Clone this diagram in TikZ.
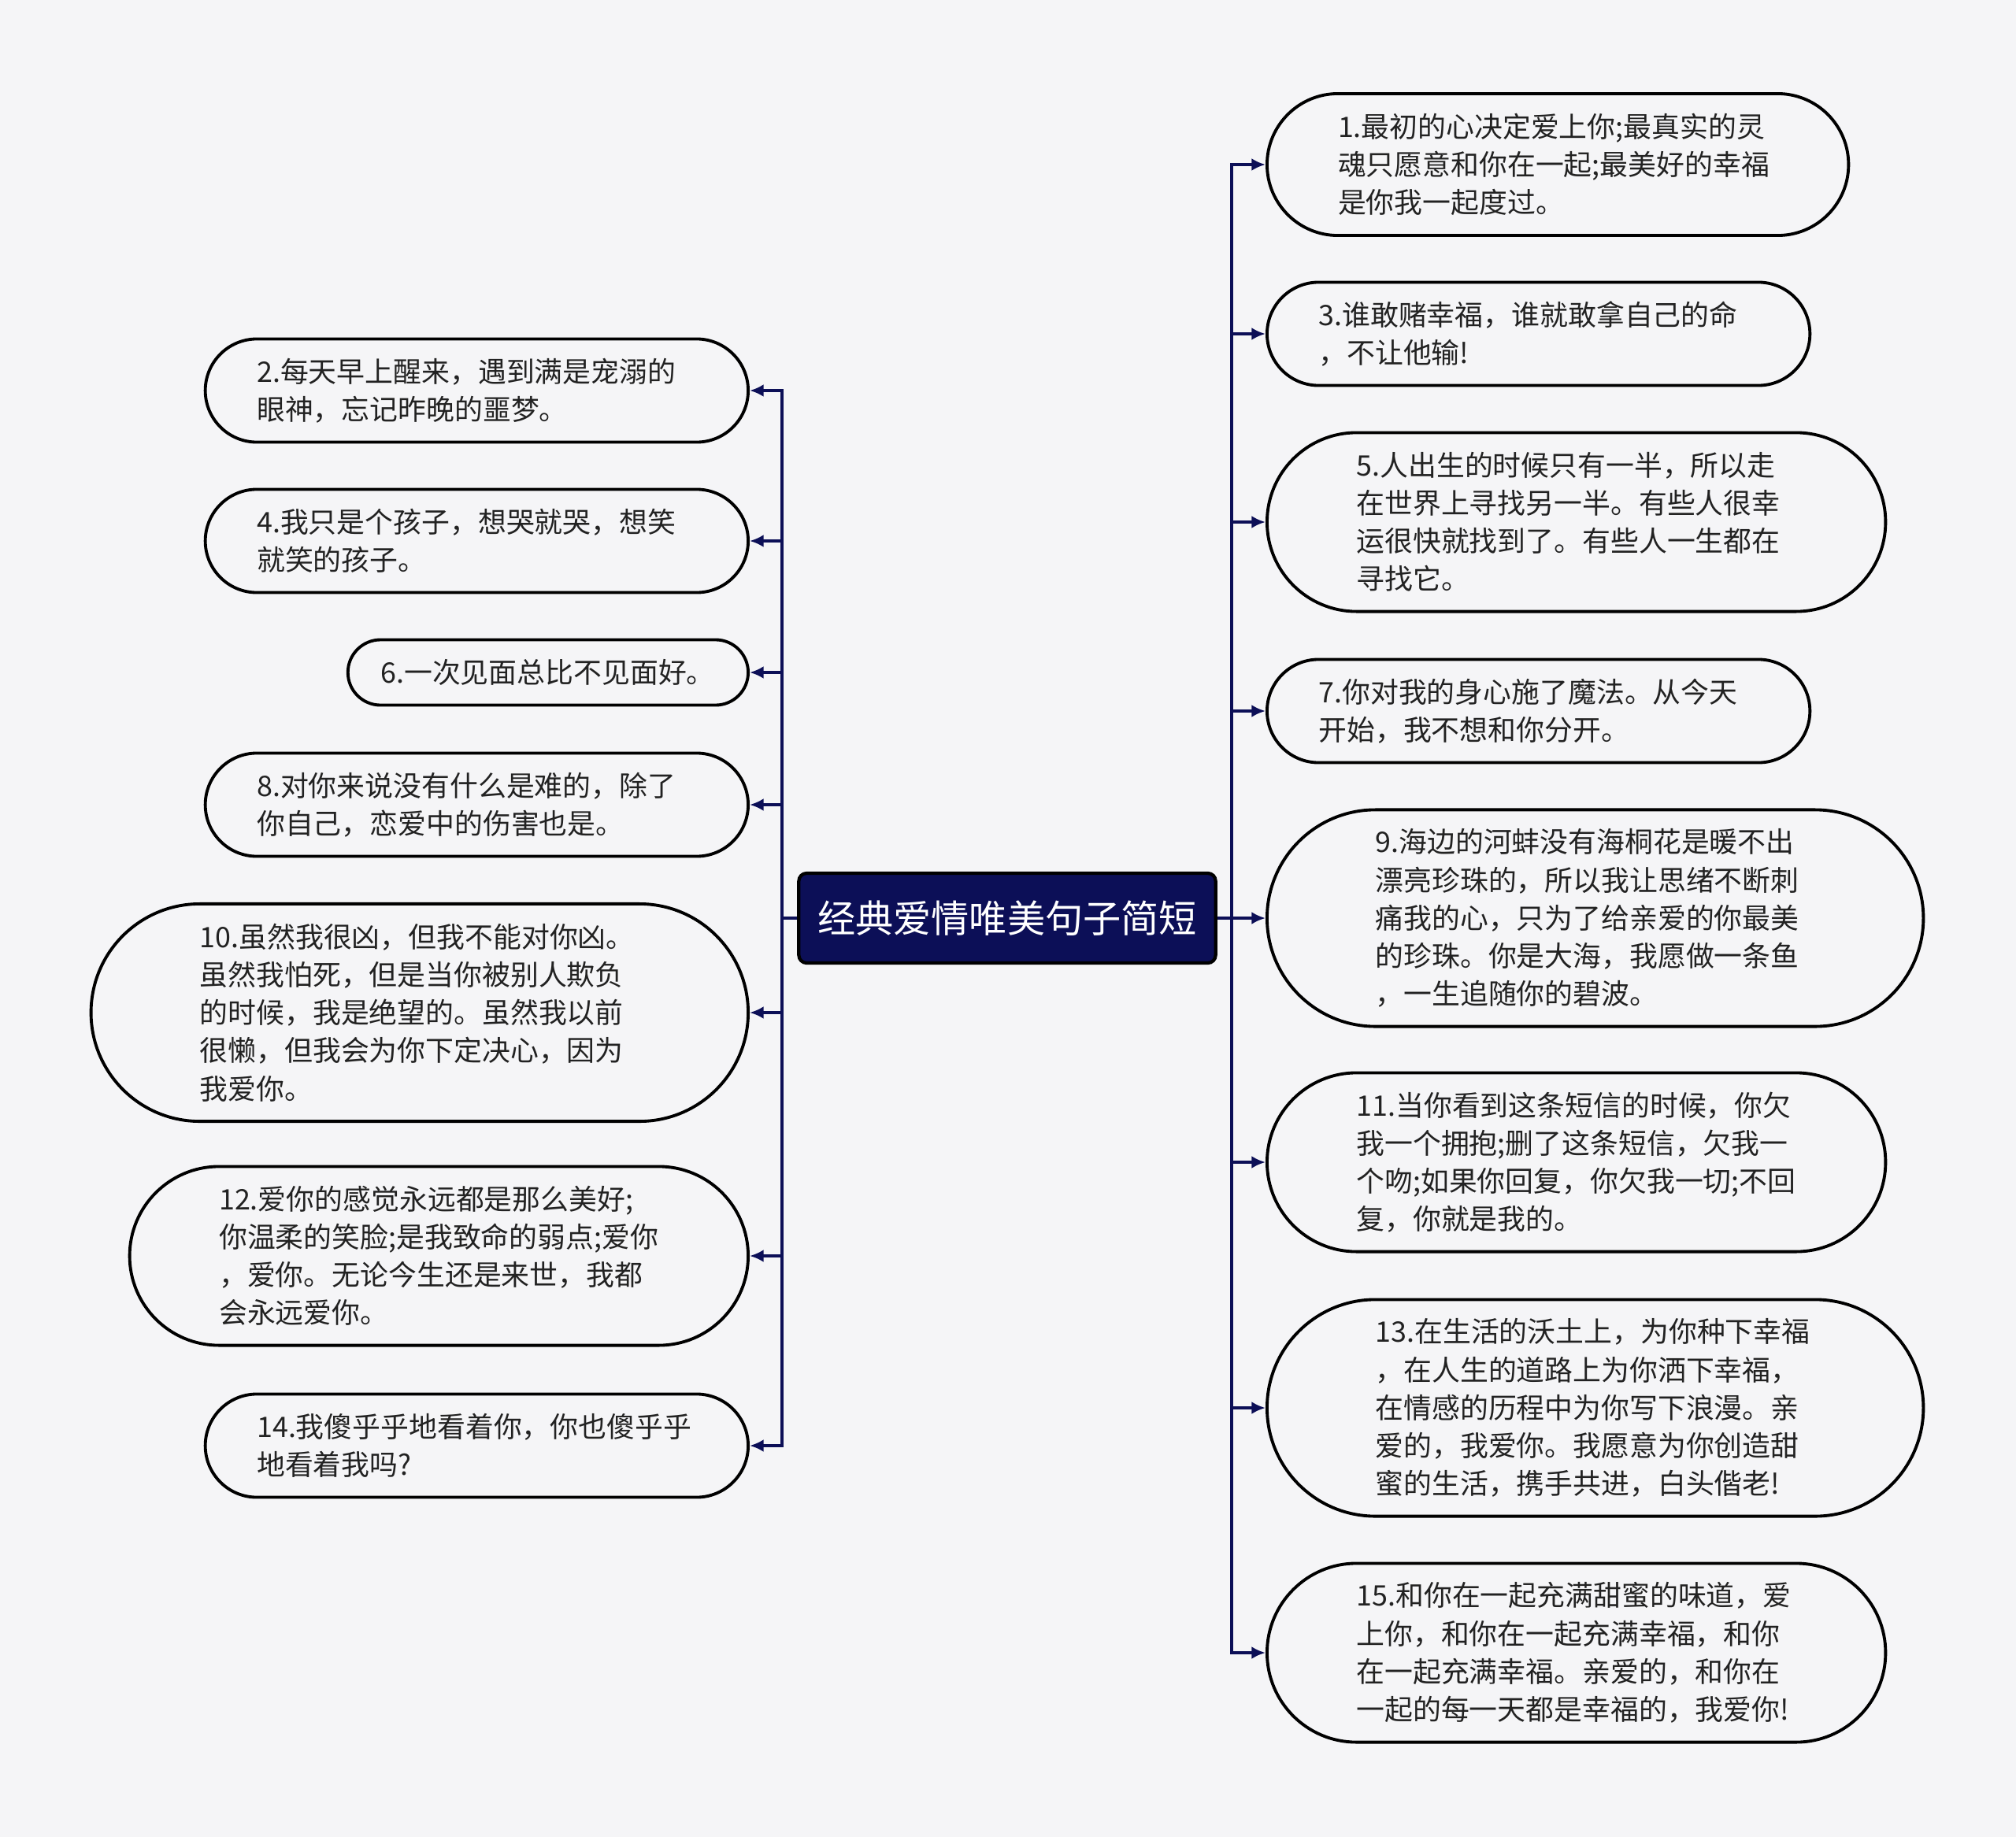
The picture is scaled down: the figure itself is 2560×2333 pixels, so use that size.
\documentclass[tikz,border=0pt]{standalone}
\usepackage{fontspec}
\setmainfont{Noto Sans CJK SC}
\usetikzlibrary{arrows.meta}

\definecolor{bgc}{HTML}{F5F5F7}
\definecolor{navy}{HTML}{0C0F57}
\definecolor{txtc}{HTML}{222222}

\begin{document}
\begin{tikzpicture}[
  x=0.01cm, y=-0.01cm,
  leaf/.style={draw=black, line width=1.1pt, fill=bgc, text=txtc,
               font=\fontsize{10.2}{13.7}\selectfont, align=left,
               text width=5.58cm, minimum height=#1, inner xsep=#1/2,
               inner ysep=0pt, rounded corners=#1/2},
  root/.style={draw=black, line width=1.2pt, fill=navy, text=white,
               font=\fontsize{13.7}{16}\selectfont, rounded corners=1mm,
               minimum width=5.29cm, minimum height=1.14cm, inner sep=0pt},
  conn/.style={draw=navy, line width=1.1pt, -{Latex[length=5pt,width=4.5pt]}},
]

% ---------------- Canvas ----------------
\useasboundingbox (0,0) rectangle (2560,2333);
\fill[bgc] (0,0) rectangle (2560,2333);

% ---------------- Root ----------------
\node[root] (root) at (1279,1166) {经典爱情唯美句子简短};
\coordinate (lt) at (993,1166);
\coordinate (rt) at (1564,1166);

% ---------------- Left branch ----------------
\node[leaf=1.31cm, anchor=east] (n2)  at (952,496)  {2.每天早上醒来，遇到满是宠溺的\\眼神，忘记昨晚的噩梦。};
\node[leaf=1.31cm, anchor=east] (n4)  at (952,687)  {4.我只是个孩子，想哭就哭，想笑\\就笑的孩子。};
\node[leaf=0.83cm, anchor=east, text width=4.25cm] (n6) at (952,854) {6.一次见面总比不见面好。};
\node[leaf=1.31cm, anchor=east] (n8)  at (952,1022) {8.对你来说没有什么是难的，除了\\你自己，恋爱中的伤害也是。};
\node[leaf=2.76cm, anchor=east] (n10) at (952,1286) {10.虽然我很凶，但我不能对你凶。\\虽然我怕死，但是当你被别人欺负\\的时候，我是绝望的。虽然我以前\\很懒，但我会为你下定决心，因为\\我爱你。};
\node[leaf=2.27cm, anchor=east] (n12) at (952,1595) {12.爱你的感觉永远都是那么美好;\\你温柔的笑脸;是我致命的弱点;爱你\\，爱你。无论今生还是来世，我都\\会永远爱你。};
\node[leaf=1.31cm, anchor=east] (n14) at (952,1836) {14.我傻乎乎地看着你，你也傻乎乎\\地看着我吗?};

% ---------------- Right branch ----------------
\node[leaf=1.80cm, anchor=west] (n1)  at (1607,209)  {1.最初的心决定爱上你;最真实的灵\\魂只愿意和你在一起;最美好的幸福\\是你我一起度过。};
\node[leaf=1.31cm, anchor=west] (n3)  at (1607,424)  {3.谁敢赌幸福，谁就敢拿自己的命\\，不让他输!};
\node[leaf=2.27cm, anchor=west] (n5)  at (1607,663)  {5.人出生的时候只有一半，所以走\\在世界上寻找另一半。有些人很幸\\运很快就找到了。有些人一生都在\\寻找它。};
\node[leaf=1.31cm, anchor=west] (n7)  at (1607,903)  {7.你对我的身心施了魔法。从今天\\开始，我不想和你分开。};
\node[leaf=2.75cm, anchor=west] (n9)  at (1607,1166) {9.海边的河蚌没有海桐花是暖不出\\漂亮珍珠的，所以我让思绪不断刺\\痛我的心，只为了给亲爱的你最美\\的珍珠。你是大海，我愿做一条鱼\\，一生追随你的碧波。};
\node[leaf=2.27cm, anchor=west] (n11) at (1607,1476) {11.当你看到这条短信的时候，你欠\\我一个拥抱;删了这条短信，欠我一\\个吻;如果你回复，你欠我一切;不回\\复，你就是我的。};
\node[leaf=2.75cm, anchor=west] (n13) at (1607,1788) {13.在生活的沃土上，为你种下幸福\\，在人生的道路上为你洒下幸福，\\在情感的历程中为你写下浪漫。亲\\爱的，我爱你。我愿意为你创造甜\\蜜的生活，携手共进，白头偕老!};
\node[leaf=2.27cm, anchor=west] (n15) at (1607,2099) {15.和你在一起充满甜蜜的味道，爱\\上你，和你在一起充满幸福，和你\\在一起充满幸福。亲爱的，和你在\\一起的每一天都是幸福的，我爱你!};

% ---------------- Connectors ----------------
\foreach \n in {n2,n4,n6,n8,n10,n12,n14}
  \draw[conn] (root.west) -- (lt) |- (\n.east);
\foreach \n in {n1,n3,n5,n7,n9,n11,n13,n15}
  \draw[conn] (root.east) -- (rt) |- (\n.west);

\end{tikzpicture}
\end{document}
